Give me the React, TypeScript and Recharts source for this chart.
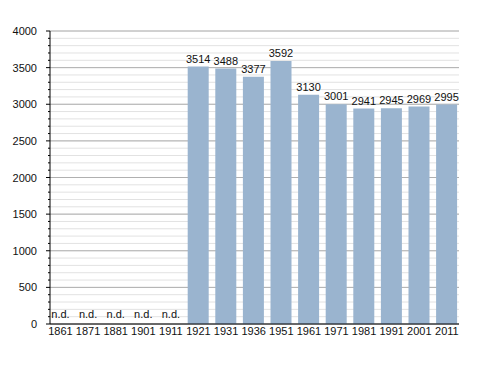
import React from 'react';
import { BarChart, Bar, XAxis, YAxis, CartesianGrid, LabelList } from 'recharts';

const years = ['1861', '1871', '1881', '1901', '1911', '1921', '1931', '1936', '1951', '1961', '1971', '1981', '1991', '2001', '2011'];
const population: (number | null)[] = [null, null, null, null, null, 3514, 3488, 3377, 3592, 3130, 3001, 2941, 2945, 2969, 2995];
const majorTicks = [0, 500, 1000, 1500, 2000, 2500, 3000, 3500, 4000];
const minorTicks = Array.from({ length: 41 }, (_, i) => i * 100);

const data = years.map((year, i) => ({
  year,
  value: population[i],
}));

const font = '"Liberation Sans", Arial, sans-serif';

const YTick = (props: any) => {
  const { x, y, payload } = props;
  const v = payload.value as number;
  const major = v % 500 === 0;
  const ax = x + 8;
  return (
    <g>
      <line x1={ax - (major ? 4 : 2)} x2={ax} y1={y} y2={y} stroke="#000" strokeWidth={1} />
      {major && (
        <text x={ax - 13} y={y} dy={4} textAnchor="end" fontSize={11} fill="#111" fontFamily={font}>
          {v}
        </text>
      )}
    </g>
  );
};

// year label below the axis, "n.d." just above it where there is no data
const XTick = (props: any) => {
  const { x, y, payload, index } = props;
  return (
    <g>
      <text x={x} y={y} dy="0.71em" textAnchor="middle" fontSize={11} fill="#111" fontFamily={font}>
        {payload.value}
      </text>
      {population[index] == null && (
        <text x={x} y={y - 9.5} textAnchor="middle" fontSize={11} fill="#111" fontFamily={font}>
          n.d.
        </text>
      )}
    </g>
  );
};

export default function App() {
  return (
    <div style={{ position: 'absolute', left: 0, top: 0, background: '#fff' }}>
      <BarChart
        width={488}
        height={373}
        data={data}
        margin={{ top: 31, right: 29, left: 0, bottom: 0 }}
        barSize={21}
      >
        <CartesianGrid horizontalValues={minorTicks} vertical={false} stroke="#e2e2e2" />
        <CartesianGrid horizontalValues={majorTicks} vertical={false} stroke="#b0b0b0" />
        <XAxis
          dataKey="year"
          height={49}
          tickLine={false}
          axisLine={{ stroke: '#000' }}
          tickMargin={0}
          tickSize={3}
          interval={0}
          padding={{ left: -3.3, right: -1.7 }}
          tick={<XTick />}
        />
        <YAxis
          width={50}
          domain={[0, 4000]}
          ticks={minorTicks}
          interval={0}
          tickLine={false}
          axisLine={{ stroke: '#000' }}
          tick={<YTick />}
        />
        <Bar dataKey="value" fill="#9ab4cf" isAnimationActive={false}>
          <LabelList dataKey="value" position="top" offset={4} fontSize={11} fill="#111" fontFamily={font} />
        </Bar>
      </BarChart>
    </div>
  );
}
